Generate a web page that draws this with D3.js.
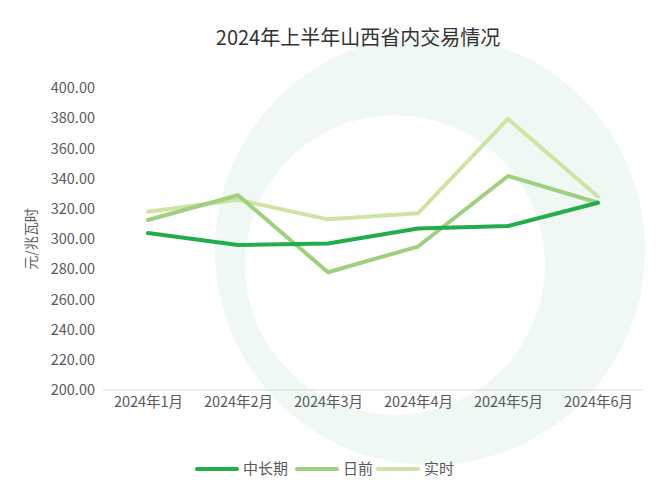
<!DOCTYPE html><html><head><meta charset="utf-8">
<script src="https://cdn.jsdelivr.net/npm/d3@7"></script>
<style>body{margin:0;background:#fff}text{font-family:"Noto Sans CJK SC","Noto Sans",sans-serif}</style></head><body>
<svg id="c" width="660" height="499"></svg>
<script>
const categories=["2024年1月","2024年2月","2024年3月","2024年4月","2024年5月","2024年6月"];
const midLong=[304,296,297,307,308.6,324];
const dayAhead=[312.6,329,278,295,341.7,324];
const realTime=[318,326,313,317,379.5,328];
const seriesNames=["中长期","日前","实时"];
const colors=["#22ad4b","#9fcf80","#cfe3a3"];
const yTicks=d3.range(200,401,20);
const svg=d3.select("#c");
const wm=svg.append("g").attr("opacity",0.07);
wm.append("circle").attr("cx",430).attr("cy",250).attr("r",215).attr("fill","#3aa860");
wm.append("circle").attr("cx",395).attr("cy",265).attr("r",150).attr("fill","#fff");
const x=d3.scalePoint().domain(categories).range([148,598]);
const y=d3.scaleLinear().domain([200,400]).range([390,88]);
svg.append("text").attr("x",358).attr("y",45).attr("text-anchor","middle").attr("font-size",20).attr("fill","#333").text("2024年上半年山西省内交易情况");
const ya=svg.append("g").attr("transform","translate(96,0)").call(d3.axisLeft(y).tickValues(yTicks).tickFormat(d3.format(".2f")).tickSize(0));
ya.select(".domain").remove();
ya.selectAll("text").attr("font-size",14.5).attr("fill","#595959").attr("dx",2);
svg.append("line").attr("x1",103).attr("x2",643).attr("y1",y(200)).attr("y2",y(200)).attr("stroke","#d9d9d9");
const xa=svg.append("g").attr("transform","translate(0,"+(y(200))+")").call(d3.axisBottom(x).tickSize(0));
xa.select(".domain").remove();
xa.selectAll("text").attr("font-size",14.5).attr("fill","#595959").attr("dy",14);
svg.append("text").attr("transform","translate(36,239) rotate(-90)").attr("text-anchor","middle").attr("font-size",14).attr("fill","#595959").text("元/兆瓦时");
const line=d3.line().x((d,i)=>x(categories[i])).y(d=>y(d));
[realTime,dayAhead,midLong].forEach((s,k)=>{const c=colors[2-k];
 svg.append("path").attr("d",line(s)).attr("fill","none").attr("stroke",c).attr("stroke-width",4).attr("stroke-linejoin","round").attr("stroke-linecap","round");});
const lx=[197,297,378];
seriesNames.forEach((n,i)=>{const g=svg.append("g").attr("transform","translate("+lx[i]+",469)");
 g.append("line").attr("x1",0).attr("x2",40).attr("stroke",colors[i]).attr("stroke-width",4).attr("stroke-linecap","round");
 g.append("text").attr("x",46).attr("y",5).attr("font-size",15).attr("fill","#595959").text(n);});
</script></body></html>
